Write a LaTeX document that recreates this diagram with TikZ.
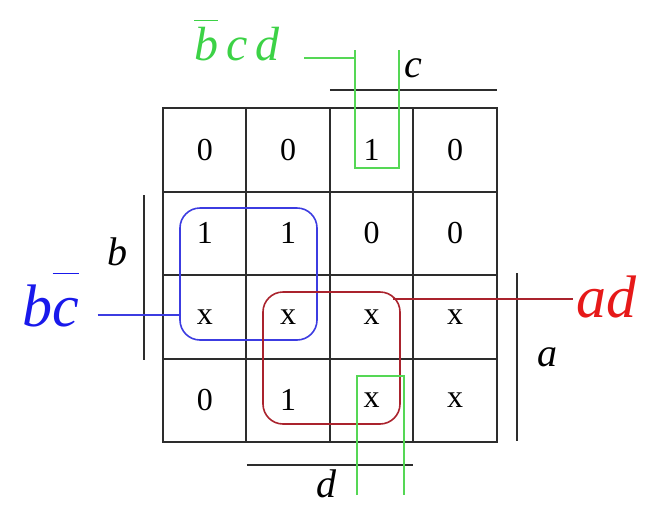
\documentclass[tikz,border=0pt]{standalone}
\usepackage{fontspec}
\setmainfont{Liberation Serif}
\usetikzlibrary{positioning}
\definecolor{gridline}{RGB}{45,45,45}
\definecolor{kgreen}{RGB}{85,215,85}
\definecolor{kblue}{RGB}{60,60,225}
\definecolor{kred}{RGB}{170,35,45}
\definecolor{lblgreen}{RGB}{60,210,70}
\definecolor{lblblue}{RGB}{25,25,235}
\definecolor{lblred}{RGB}{230,25,25}

\begin{document}
\begin{tikzpicture}[
  x=0.5pt, y=-0.5pt,
  cell/.style={draw=gridline, line width=1pt, minimum size=41.75pt, inner sep=0pt, font=\fontsize{16}{16}\selectfont},
  varbar/.style={draw=gridline, line width=1pt},
  varname/.style={font=\fontsize{20}{20}\selectfont\itshape, inner sep=0pt},
  grp/.style={line width=0.8pt, rounded corners=10pt},
  loop/.style={line width=0.8pt},
  termlbl/.style={font=\fontsize{30}{30}\selectfont\itshape, inner ysep=2pt}
]
\useasboundingbox (0,0) rectangle (661,505);

% map cells
\foreach \row [count=\i] in {{0,0,1,0},{1,1,0,0},{x,x,x,x},{0,1,x,x}}
  \foreach \v [count=\j] in \row
    \node[cell] (c\i\j) at (121.25+83.5*\j, 66.25+83.5*\i) {\v};

% variable bars
\draw[varbar] (330,90) -- (497,90);
\node[varname] (vc) at (413,68) {c};
\draw[varbar] (144,195) -- (144,360);
\node[varname] (vb) at (118,252) {b};
\draw[varbar] (517,273) -- (517,441);
\node[varname] (va) at (548,357) {a};
\draw[varbar] (247,465) -- (413,465);
\node[varname] (vd) at (327,484) {d};

% groups
\draw[kblue, grp] (180,208) rectangle (317,340);
\draw[kred, grp] (263,292) rectangle (400,424);
\draw[kgreen, loop] (355,50) -- (355,168) -- (399,168) -- (399,50);
\draw[kgreen, loop] (357,495) -- (357,376) -- (404,376) -- (404,495);

% terms
\node[termlbl, lblblue, inner xsep=9pt] (tbc) at (51,300) {b$\overline{\mbox{\rule{0pt}{0.84em}c}}$};
\node[termlbl, lblred, inner xsep=2pt] (tad) at (607,297) {ad};
\node[termlbl, lblgreen, inner xsep=12pt, font=\fontsize{24}{24}\selectfont\itshape] (tbcd) at (237,40) {$\overline{\mbox{\rule{0pt}{0.78em}b}}$\,c\,d};

\coordinate (bcend) at (180,315);
\coordinate (adend) at (393,299);
\coordinate (bcdend) at (355,58);
\draw[kblue, loop] (tbc.east |- bcend) -- (bcend);
\draw[kred, loop] (adend) -- (tad.west |- adend);
\draw[kgreen, loop] (tbcd.east |- bcdend) -- (bcdend);

\end{tikzpicture}
\end{document}
